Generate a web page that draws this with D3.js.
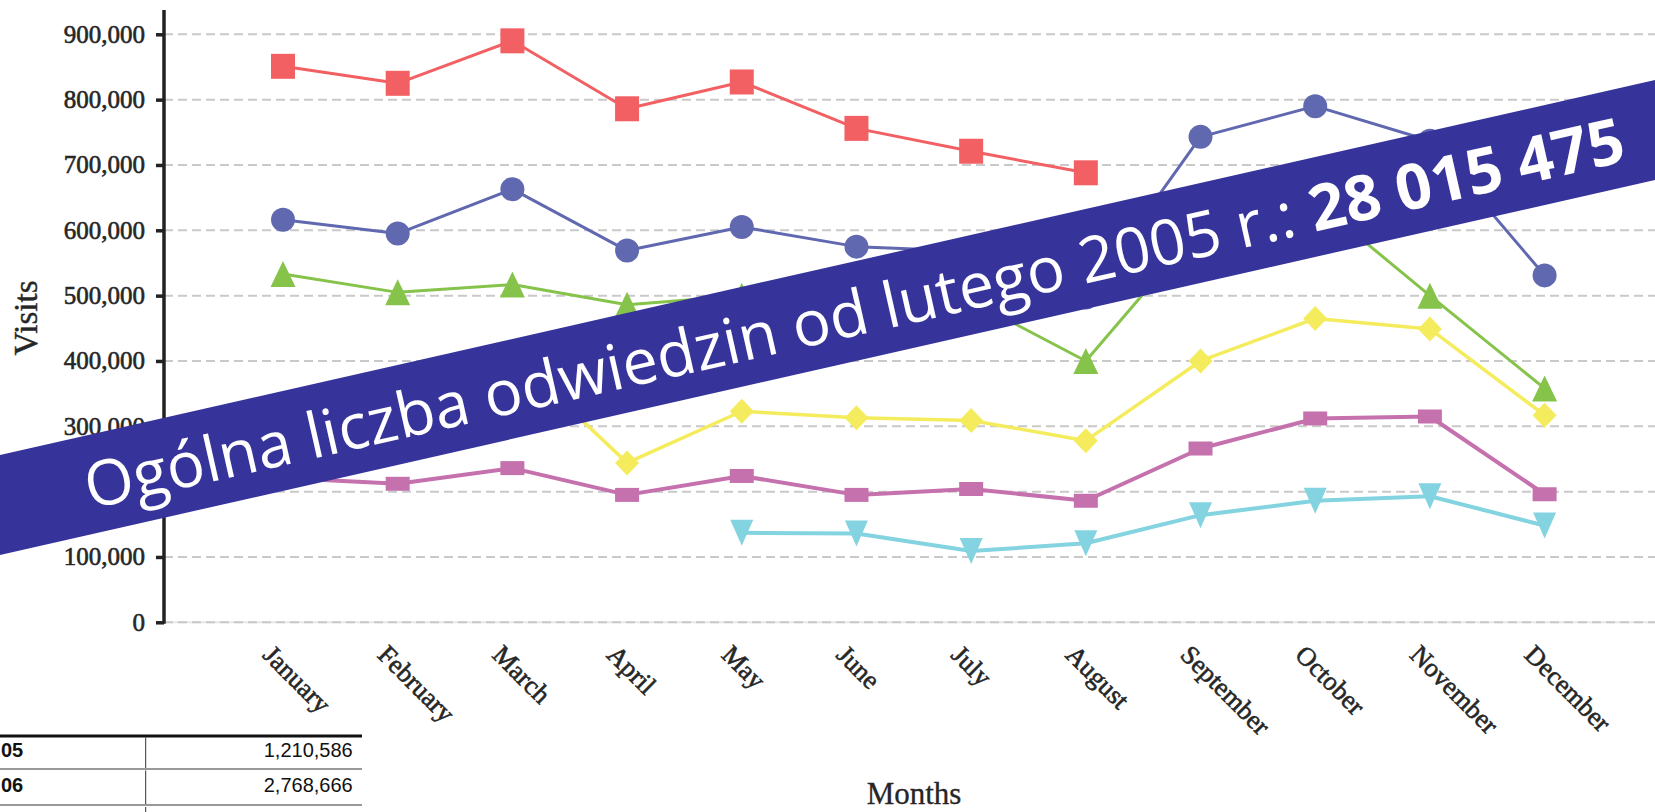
<!DOCTYPE html>
<html>
<head>
<meta charset="utf-8">
<script src="https://cdn.jsdelivr.net/npm/d3@7"></script>
<style>
  html, body { margin: 0; padding: 0; background: #ffffff; overflow: hidden; }
  svg { display: block; }
</style>
</head>
<body>
<svg id="chart" width="1655" height="812"></svg>
<script>
// ---------------- data ----------------
const months = ["January", "February", "March", "April", "May", "June",
                "July", "August", "September", "October", "November", "December"];
const yTicks = [0, 100000, 200000, 300000, 400000, 500000, 600000, 700000, 800000, 900000];

const redValues    = [851000, 825000, 890000, 786000, 827000, 756000, 721000, 688000, null, null, null, null];
const blueValues   = [616000, 595000, 663000, 569000, 605000, 575000, 568000, 497000, 743000, 790000, 737000, 531000];
const greenValues  = [533000, 505000, 517000, 486000, 500000, 515000, 492000, 400000, 605000, 645000, 500000, 358000];
const yellowValues = [325000, 320000, 410000, 244000, 323000, 313000, 309000, 278000, 400000, 465000, 449000, 317000];
const pinkValues   = [221000, 212000, 236000, 195000, 224000, 195000, 204000, 186000, 266000, 312000, 315000, 196000];
const cyanValues   = [null, null, null, null, 137000, 136000, 109000, 121000, 164000, 186000, 193000, 148000];

const yAxisTitle = "Visits";
const xAxisTitle = "Months";

const bannerTextRegular = "Ogólna liczba odwiedzin od lutego 2005 r.: ";
const bannerTextBold = "28 015 475";

const tableYears  = ["05", "06"];
const tableTotals = ["1,210,586", "2,768,666"];

// ---------------- setup ----------------
const svg = d3.select("#chart");
const axisX = 164;
const plotRight = 1655;

const x = d3.scalePoint().domain(months).range([283, 1544.6]);
const y = d3.scaleLinear().domain([0, 900000]).range([622.3, 34.3]);

const serif = "'Liberation Serif', 'Times New Roman', serif";
const inkColor = "#262626";

// gridlines
const grid = svg.append("g");
grid.append("line")
  .attr("x1", axisX).attr("x2", plotRight)
  .attr("y1", y(0)).attr("y2", y(0))
  .attr("stroke", "#e6e6e6").attr("stroke-width", 2);
grid.selectAll("line.g").data(yTicks).enter().append("line")
  .attr("class", "g")
  .attr("x1", axisX).attr("x2", plotRight)
  .attr("y1", d => y(d)).attr("y2", d => y(d))
  .attr("stroke", "#c9c9c9").attr("stroke-width", 2)
  .attr("stroke-dasharray", "9,5");

// y axis
const yAxis = svg.append("g")
  .attr("transform", `translate(${axisX},0)`)
  .call(d3.axisLeft(y).tickValues(yTicks).tickFormat(d3.format(",")).tickSize(8).tickPadding(11));
yAxis.select(".domain").remove();
yAxis.selectAll(".tick line").attr("stroke", "#222").attr("stroke-width", 3.5);
yAxis.selectAll(".tick text")
  .attr("fill", inkColor)
  .attr("stroke", inkColor).attr("stroke-width", 0.6)
  .style("font-family", serif)
  .style("font-size", "25px");
svg.append("line")
  .attr("x1", axisX).attr("x2", axisX)
  .attr("y1", 10).attr("y2", y(0) + 1.5)
  .attr("stroke", "#222").attr("stroke-width", 3.5);

// x axis (labels only)
const xAxis = svg.append("g")
  .attr("transform", `translate(0,${y(0)})`)
  .call(d3.axisBottom(x).tickSize(0));
xAxis.select(".domain").remove();
xAxis.selectAll(".tick text")
  .attr("x", 0).attr("y", 0).attr("dy", null)
  .attr("transform", "translate(-22,34) rotate(45)")
  .style("text-anchor", "start")
  .attr("fill", inkColor)
  .attr("stroke", inkColor).attr("stroke-width", 0.6)
  .style("font-family", serif)
  .style("font-size", "26.5px");

// axis titles
svg.append("text")
  .attr("transform", "translate(37,318) rotate(-90)")
  .attr("text-anchor", "middle")
  .attr("fill", inkColor)
  .attr("stroke", inkColor).attr("stroke-width", 0.4)
  .style("font-family", serif).style("font-size", "33px")
  .text(yAxisTitle);
svg.append("text")
  .attr("x", 914).attr("y", 804)
  .attr("text-anchor", "middle")
  .attr("fill", inkColor)
  .attr("stroke", inkColor).attr("stroke-width", 0.3)
  .style("font-family", serif).style("font-size", "31px")
  .text(xAxisTitle);

// ---------------- series ----------------
const shapes = {
  square:   "M-12,-12.5H12V12.5H-12Z",
  rect:     "M-12,-7H12V7H-12Z",
  diamond:  "M0,-12.5L12,0L0,12.5L-12,0Z",
  up:       "M0,-13L12.5,13L-12.5,13Z",
  down:     "M0,13L11.5,-13L-11.5,-13Z"
};

const series = [
  { values: cyanValues,   color: "#83d3e0", width: 4,   shape: "down" },
  { values: pinkValues,   color: "#c471ad", width: 4,   shape: "rect" },
  { values: yellowValues, color: "#f4ec5c", width: 3.5, shape: "diamond" },
  { values: greenValues,  color: "#86c34b", width: 3,   shape: "up" },
  { values: blueValues,   color: "#6068b0", width: 3,   shape: "circle" },
  { values: redValues,    color: "#f26063", width: 3,   shape: "square" }
];

const line = d3.line()
  .defined(d => d.v != null)
  .x(d => x(d.m))
  .y(d => y(d.v));

series.forEach(s => {
  const pts = s.values.map((v, i) => ({ m: months[i], v: v }));
  const g = svg.append("g");
  g.append("path")
    .attr("d", line(pts))
    .attr("fill", "none")
    .attr("stroke", s.color)
    .attr("stroke-width", s.width)
    .attr("stroke-linejoin", "round");
  const valid = pts.filter(d => d.v != null);
  if (s.shape === "circle") {
    g.selectAll("circle").data(valid).enter().append("circle")
      .attr("cx", d => x(d.m)).attr("cy", d => y(d.v))
      .attr("r", 12).attr("fill", s.color);
  } else {
    g.selectAll("path.m").data(valid).enter().append("path")
      .attr("class", "m")
      .attr("transform", d => `translate(${x(d.m)},${y(d.v)})`)
      .attr("d", shapes[s.shape])
      .attr("fill", s.color);
  }
});

// ---------------- table fragment ----------------
const sans = "'Liberation Sans', Arial, sans-serif";
const tbl = svg.append("g");
tbl.append("line").attr("x1", 0).attr("x2", 362).attr("y1", 736).attr("y2", 736)
  .attr("stroke", "#111").attr("stroke-width", 3);
const rowTop = [737.5, 770.5];
const rowBaseline = [756.5, 792];
const rowSep = [769, 805];
tableYears.forEach((yr, i) => {
  tbl.append("line").attr("x1", 145.7).attr("x2", 145.7)
    .attr("y1", rowTop[i]).attr("y2", rowSep[i] - 1)
    .attr("stroke", "#333").attr("stroke-width", 1);
  tbl.append("text").attr("x", 1).attr("y", rowBaseline[i])
    .attr("text-anchor", "start")
    .style("font-family", sans).style("font-size", "20px").style("font-weight", "bold")
    .attr("fill", "#111").text(yr);
  tbl.append("text").attr("x", 352.7).attr("y", rowBaseline[i])
    .attr("text-anchor", "end")
    .style("font-family", sans).style("font-size", "20px")
    .attr("fill", "#111").text(tableTotals[i]);
  tbl.append("line").attr("x1", 0).attr("x2", 362).attr("y1", rowSep[i]).attr("y2", rowSep[i])
    .attr("stroke", "#999").attr("stroke-width", 2);
});
tbl.append("line").attr("x1", 145.7).attr("x2", 145.7).attr("y1", 807).attr("y2", 812)
  .attr("stroke", "#333").attr("stroke-width", 1);

// ---------------- banner ----------------
const angle = -Math.atan(0.2266) * 180 / Math.PI;
const banner = svg.append("g")
  .attr("transform", `translate(854,313) rotate(${angle})`);
banner.append("rect")
  .attr("x", -1300).attr("width", 2600)
  .attr("y", -50.25).attr("height", 97.5)
  .attr("fill", "#36349a");
const bt = banner.append("text")
  .attr("x", 0)
  .attr("text-anchor", "middle")
  .attr("fill", "#ffffff")
  .style("font-family", "'Open Sans', 'Noto Sans', sans-serif")
  .style("font-size", "60px");
bt.append("tspan").text(bannerTextRegular);
bt.append("tspan").style("font-weight", "bold").text(bannerTextBold);
const len = bt.node().getComputedTextLength();
const fs = 60 * 1577 / len;
bt.style("font-size", fs + "px").attr("y", 0.357 * fs);
</script>
</body>
</html>
